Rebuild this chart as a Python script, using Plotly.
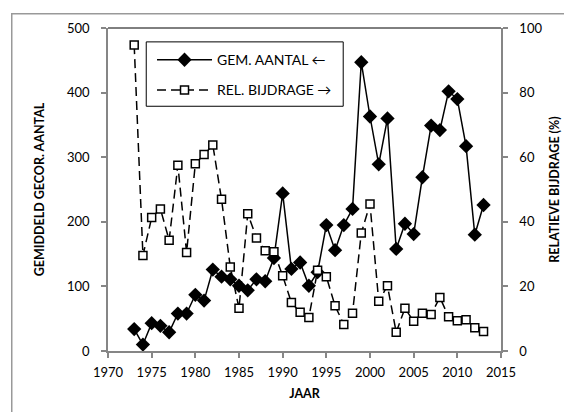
import plotly.graph_objects as go

years = list(range(1973, 2014))
gem_aantal = [34, 10, 43, 39, 29, 58, 58, 87, 78, 126, 115, 111, 101, 94, 111, 108,
              144, 244, 127, 137, 101, 122, 195, 156, 195, 220, 447, 363, 289, 360,
              158, 197, 181, 269, 349, 342, 402, 390, 317, 180, 226]
rel_bijdrage = [94.7, 29.6, 41.3, 44.0, 34.3, 57.5, 30.5, 58.0, 60.8, 63.8, 47.0, 26.0,
                13.2, 42.5, 35.0, 31.0, 30.7, 23.3, 15.0, 12.0, 10.4, 25.0, 23.0, 14.0,
                8.2, 11.7, 36.5, 45.5, 15.4, 20.2, 5.8, 13.2, 9.2, 11.7, 11.3, 16.6,
                10.6, 9.4, 9.7, 7.2, 6.0]

FONT = "Lato"
AXC = "#868686"

fig = go.Figure()
fig.add_trace(go.Scatter(
    x=years, y=gem_aantal, name="GEM. AANTAL \u2190", legendgroup="a",
    mode="lines+markers",
    line=dict(color="black", width=1.5),
    marker=dict(symbol="diamond", size=11, color="black"),
))
fig.add_trace(go.Scatter(
    x=years, y=rel_bijdrage, name="REL. BIJDRAGE \u2192", legendgroup="b",
    yaxis="y2", mode="lines+markers",
    line=dict(color="black", width=1.5, dash="9px,5px"),
    marker=dict(symbol="square", size=8, color="white",
                line=dict(color="black", width=1.5)),
))

tickfont = dict(family=FONT, size=13, color="black")
titlefont = dict(family=FONT, size=12.5, color="black")

fig.update_layout(
    width=564, height=404,
    margin=dict(l=100, r=63, t=17, b=61),
    paper_bgcolor="white", plot_bgcolor="white",
    font=dict(family=FONT, size=13, color="black"),
    showlegend=True,
    legend=dict(
        x=0.112, y=0.95, xanchor="left", yanchor="top",
        borderwidth=0, bgcolor="rgba(0,0,0,0)",
        font=dict(family=FONT, size=14),
        tracegroupgap=9, itemwidth=55,
    ),
    xaxis=dict(
        range=[1970, 2015], dtick=5, tick0=1970,
        showline=True, linecolor=AXC, linewidth=1.5,
        ticks="outside", ticklen=5, tickcolor=AXC, tickwidth=1.5,
        ticklabelstandoff=4, tickfont=tickfont,
        showgrid=False, zeroline=False,
        title=dict(text="<b>JAAR</b>", font=titlefont, standoff=10),
    ),
    yaxis=dict(
        range=[0, 500], dtick=100,
        showline=True, linecolor=AXC, linewidth=1.5,
        ticks="outside", ticklen=5, tickcolor=AXC, tickwidth=1.5,
        ticklabelstandoff=9, tickfont=tickfont,
        showgrid=False, zeroline=False,
        title=dict(text="<b>GEMIDDELD GECOR. AANTAL</b>", font=titlefont, standoff=20),
    ),
    yaxis2=dict(
        range=[0, 100], dtick=20, overlaying="y", side="right",
        showline=True, linecolor=AXC, linewidth=1.5,
        ticks="outside", ticklen=5, tickcolor=AXC, tickwidth=1.5,
        ticklabelstandoff=9, tickfont=tickfont,
        showgrid=False, zeroline=False,
        title=dict(text="<b>RELATIEVE BIJDRAGE (%)</b>", font=titlefont, standoff=9),
    ),
    shapes=[
        dict(type="line", xref="paper", yref="paper", x0=0, x1=1, y0=1, y1=1,
             line=dict(color="black", width=1)),
        dict(type="rect", xref="paper", yref="paper",
             x0=0.0973, x1=0.5985, y0=0.7577, y1=0.957,
             line=dict(color="black", width=1), fillcolor="rgba(0,0,0,0)"),
    ],
    annotations=[
        # outer chart frame (only its left and top edges fall inside the page)
        dict(xref="paper", yref="paper", x=-0.2475, y=1.047,
             xanchor="left", yanchor="top", text=" ", showarrow=False,
             width=620, height=460, borderpad=0,
             bordercolor="#999999", borderwidth=1.5, bgcolor="rgba(0,0,0,0)"),
    ],
)

fig.write_html("out.html")
